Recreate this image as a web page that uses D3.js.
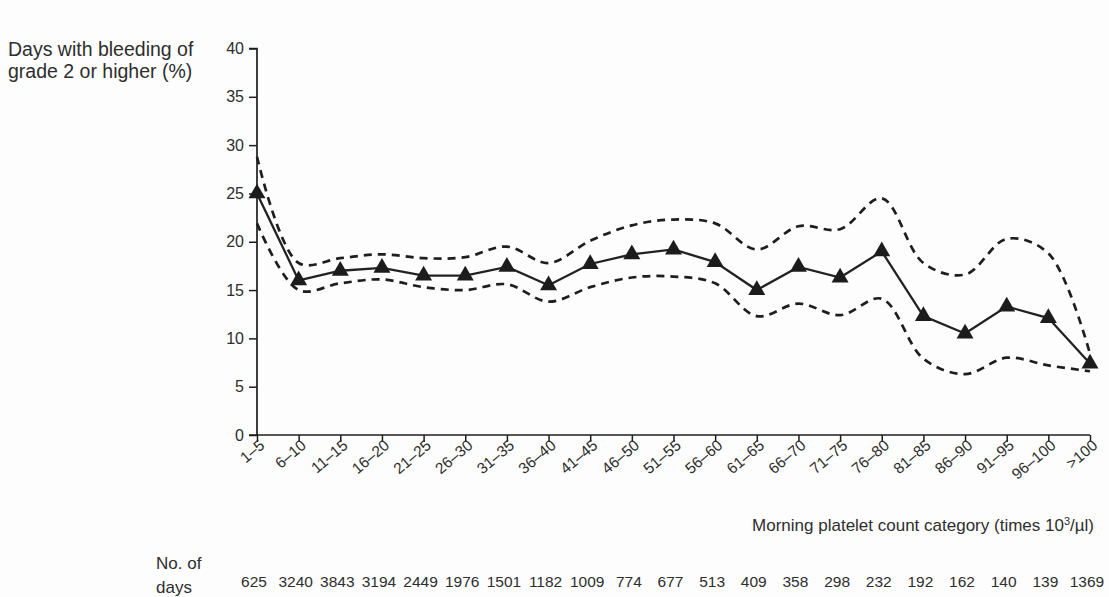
<!DOCTYPE html>
<html>
<head>
<meta charset="utf-8">
<script src="https://cdn.jsdelivr.net/npm/d3@7"></script>
<style>
  body { margin: 0; background: #fdfdfd; }
  svg { display: block; }
  text { font-family: "Liberation Sans", Arial, sans-serif; fill: #2e2e2e; }
</style>
</head>
<body>
<script>
// categories of morning platelet count (x 10^3/ul)
var categories = ["1\u20135","6\u201310","11\u201315","16\u201320","21\u201325","26\u201330","31\u201335","36\u201340",
  "41\u201345","46\u201350","51\u201355","56\u201360","61\u201365","66\u201370","71\u201375","76\u201380",
  "81\u201385","86\u201390","91\u201395","96\u2013100",">100"];
// % of days with grade 2+ bleeding
var estimate = [25.0,16.0,17.0,17.3,16.5,16.5,17.4,15.5,17.7,18.7,19.2,17.9,15.0,17.4,16.3,19.0,12.3,10.5,13.3,12.1,7.4];
var upper    = [28.8,17.8,18.3,18.7,18.3,18.4,19.5,17.8,20.1,21.7,22.3,21.9,19.2,21.6,21.3,24.5,17.8,16.6,20.3,18.8,8.4];
var lower    = [21.9,15.0,15.7,16.1,15.3,15.0,15.6,13.8,15.3,16.3,16.4,15.7,12.3,13.6,12.4,14.1,7.9,6.3,8.0,7.2,6.6];
var noOfDays = [625,3240,3843,3194,2449,1976,1501,1182,1009,774,677,513,409,358,298,232,192,162,140,139,1369];
var yTicks = [0,5,10,15,20,25,30,35,40];

var W = 1109, H = 597;
var svg = d3.select("body").append("svg")
  .attr("width", W)
  .attr("height", H);

var x = d3.scalePoint().domain(categories).range([257, 1090]);
var y = d3.scaleLinear().domain([0, 40]).range([435, 48.5]);

// y axis
var yAxis = svg.append("g")
  .attr("transform", "translate(257,0)")
  .call(d3.axisLeft(y).tickValues(yTicks).tickSize(8).tickPadding(5));
yAxis.select(".domain").attr("stroke", "#1e1e1e").attr("stroke-width", 1.7).attr("d", "M-8," + y(40) + "H0V" + y(0));
yAxis.selectAll(".tick line").attr("stroke", "#1e1e1e").attr("stroke-width", 1.5);
yAxis.selectAll(".tick text").style("font-size", "16px").attr("fill", "#2e2e2e")
  .style("font-family", "'Liberation Sans', Arial, sans-serif");

// x axis
var xAxis = svg.append("g")
  .attr("transform", "translate(0,435)")
  .call(d3.axisBottom(x).tickSize(7).tickSizeOuter(0));
xAxis.select(".domain").attr("stroke", "#1e1e1e").attr("stroke-width", 1.7).attr("d", "M249,0H1090");
xAxis.selectAll(".tick line").attr("stroke", "#1e1e1e").attr("stroke-width", 1.5);
xAxis.selectAll(".tick text")
  .style("font-size", "15.5px").attr("fill", "#2e2e2e")
  .style("font-family", "'Liberation Sans', Arial, sans-serif")
  .attr("text-anchor", "end")
  .attr("dy", null)
  .attr("y", 0)
  .attr("transform", "translate(8,12) rotate(-40)");

// confidence bands (dashed)
var smooth = d3.line()
  .x(function(d, i){ return x(categories[i]); })
  .y(function(d){ return y(d); })
  .curve(d3.curveCatmullRom.alpha(0.5));

[upper, lower].forEach(function(s){
  svg.append("path")
    .attr("d", smooth(s))
    .attr("fill", "none")
    .attr("stroke", "#1e1e1e")
    .attr("stroke-width", 2.7)
    .attr("stroke-dasharray", "8,6");
});

// point estimate line
var straight = d3.line()
  .x(function(d, i){ return x(categories[i]); })
  .y(function(d){ return y(d); });

svg.append("path")
  .attr("d", straight(estimate))
  .attr("fill", "none")
  .attr("stroke", "#222")
  .attr("stroke-width", 2.3);

svg.selectAll(".tri")
  .data(estimate)
  .enter().append("path")
  .attr("class", "tri")
  .attr("d", d3.symbol().type(d3.symbolTriangle).size(125))
  .attr("transform", function(d, i){ return "translate(" + x(categories[i]) + "," + y(d) + ")"; })
  .attr("fill", "#1c1c1c");

// y axis title
svg.append("text").attr("x", 8).attr("y", 56).style("font-size", "19.5px").text("Days with bleeding of");
svg.append("text").attr("x", 8).attr("y", 78).style("font-size", "19.5px").text("grade 2 or higher (%)");

// x axis title
var xt = svg.append("text").attr("x", 1094).attr("y", 531)
  .attr("text-anchor", "end").style("font-size", "17px");
xt.append("tspan").text("Morning platelet count category (times 10");
xt.append("tspan").attr("dy", -6).style("font-size", "11px").text("3");
xt.append("tspan").attr("dy", 6).text("/\u00b5l)");

// number of days row
svg.append("text").attr("x", 156).attr("y", 569).style("font-size", "17px").text("No. of");
svg.append("text").attr("x", 156).attr("y", 593).style("font-size", "17px").text("days");

svg.selectAll(".nd")
  .data(noOfDays)
  .enter().append("text")
  .attr("class", "nd")
  .attr("x", function(d, i){ return x(categories[i]) - 3; })
  .attr("y", 587)
  .attr("text-anchor", "middle")
  .style("font-size", "15.5px")
  .text(function(d){ return d; });
</script>
</body>
</html>
